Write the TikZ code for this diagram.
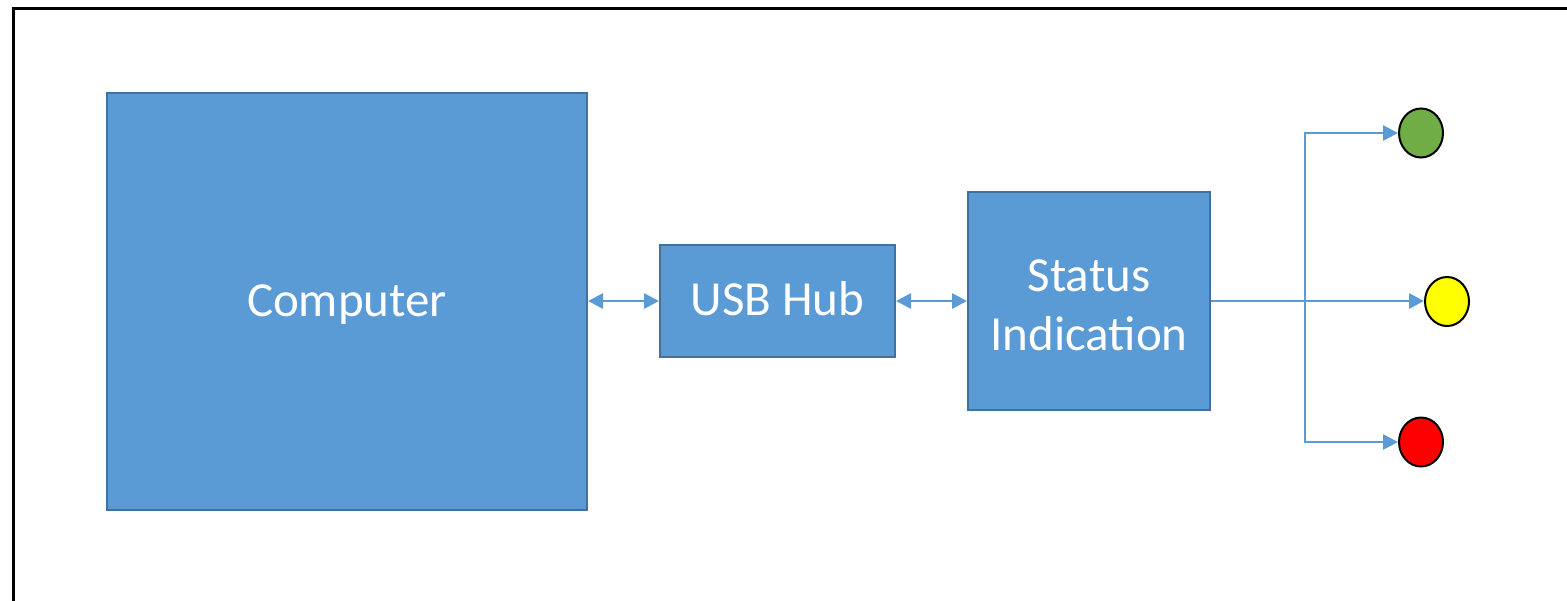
\documentclass[tikz,border=0pt]{standalone}
\usepackage{fontspec}
\setmainfont{Carlito}
\usetikzlibrary{arrows.meta,shapes.geometric}
\definecolor{boxfill}{HTML}{5B9BD5}
\definecolor{boxline}{HTML}{41719C}
\definecolor{ledgreen}{HTML}{70AD47}
\definecolor{ledyellow}{HTML}{FFFF00}
\definecolor{ledred}{HTML}{FF0000}
\tikzset{
  block/.style={rectangle, draw=boxline, fill=boxfill, line width=1pt,
    text=white, font=\fontsize{24.5}{29.5}\selectfont, align=center,
    inner sep=0pt},
  oneline/.style={text height=19.8pt, text depth=5pt},
  twolines/.style={text height=49.5pt, text depth=0pt},
  lamp/.style={ellipse, draw=black, line width=1pt, minimum width=22pt,
    minimum height=24.5pt, inner sep=0pt},
  link/.style={draw=boxfill, line width=1.3pt},
  tip/.style={-{Triangle[length=7.5pt,width=7.5pt]}},
  twotip/.style={{Triangle[length=7.5pt,width=7.5pt]}-{Triangle[length=7.5pt,width=7.5pt]}}
}
\begin{document}
\begin{tikzpicture}[x=0.5pt,y=-0.5pt]
  \useasboundingbox (0,0) rectangle (1567,600);
  \begin{scope}
    \clip (0,0) rectangle (1567,600);
    \fill[white] (0,0) rectangle (1567,600);
    \draw[line width=1.5pt] (13.5,8.5) rectangle (1650,700);
  \end{scope}

  \node[block, oneline, minimum width=240pt, minimum height=208.5pt] (pc) at (347,301.5) {Computer};
  \node[block, oneline, minimum width=117.5pt, minimum height=56pt] (hub) at (777.5,301) {USB Hub};
  \node[block, twolines, minimum width=121pt, minimum height=109pt] (st) at (1089,301) {Status\\Indication};

  \node[lamp, fill=ledgreen] (g) at (1421,133) {};
  \node[lamp, fill=ledyellow] (y) at (1447,301.5) {};
  \node[lamp, fill=ledred] (r) at (1421,442) {};

  \coordinate (j) at (1305,301);

  \draw[link, twotip] (pc.east |- hub) -- (hub.west);
  \draw[link, twotip] (hub.east) -- (st.west);
  \draw[link, tip] (st.east |- j) -- (y.west |- j);
  \draw[link, tip] (j) |- (g.west);
  \draw[link, tip] (j) |- (r.west);
\end{tikzpicture}
\end{document}
